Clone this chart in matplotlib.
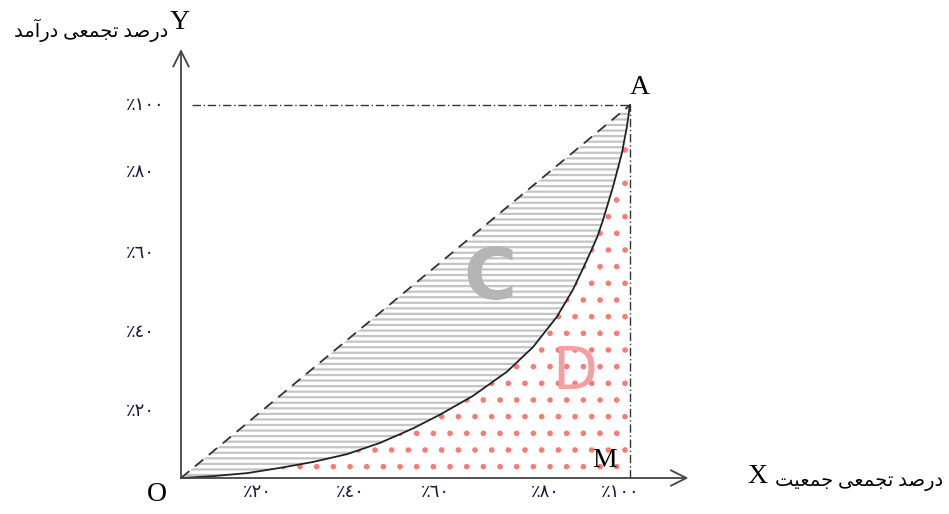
import matplotlib
matplotlib.use("Agg")
import matplotlib.pyplot as plt
import numpy as np

# lorenz curve (percent of population / percent of income)
lorenz_x = [0, 7.1, 14.7, 22.0, 29.4, 37.0, 44.3, 51.7, 57.7, 65.0, 72.6,
            78.4, 83.7, 87.3, 90.4, 92.7, 94.0, 96.2, 98.2, 99.3, 100]
lorenz_y = [0, 0.5, 1.3, 2.7, 4.3, 6.4, 9.4, 13.3, 17.0, 22.0, 28.5,
            35.1, 43.2, 50.5, 58.4, 64.6, 69.2, 78.0, 87.1, 94.1, 100]

# tick labels (arabic-indic digits, written in visual order)
x_tick_pos = [17.1, 37.6, 56.6, 81.1, 97.8]
y_tick_pos = [17.7, 38.9, 60.1, 82.0, 100]
tick_labels = ["\u066A\u0662\u0660", "\u066A\u0664\u0660", "\u066A\u0666\u0660",
               "\u066A\u0668\u0660", "\u066A\u0661\u0660\u0660"]

# persian words as presentation forms, visual (left to right) order
w_darsad = "\uFEAA\uFEBB\uFEAD\uFEA9"
w_tajmii = "\uFEF0\uFECC\uFEE4\uFEA0\uFE97"
w_daramad = "\uFEAA\uFEE3\uFE81\uFEAD\uFEA9"
w_jamiat = "\uFE96\uFEF4\uFECC\uFEE4\uFE9F"
y_title = w_daramad + " " + w_tajmii + " " + w_darsad
x_title = w_jamiat + " " + w_tajmii + " " + w_darsad

fonts = ["Liberation Serif", "DejaVu Sans"]
plt.rcParams["hatch.linewidth"] = 1.6

fig = plt.figure(figsize=(9.49, 5.14), dpi=100)
ax = fig.add_axes([181 / 949, 36 / 514, 449 / 949, 373 / 514])
ax.set_xlim(0, 100)
ax.set_ylim(0, 100)
ax.axis("off")

lx = np.array(lorenz_x)
ly = np.array(lorenz_y)

# area C : between equality line and lorenz curve
ax.fill_between(lx, lx, ly, facecolor="none", edgecolor="#c4c4c4",
                hatch="---", linewidth=0)
# area D : under the lorenz curve
ax.fill_between(lx, ly, 0, facecolor="none", edgecolor="#f87a7a",
                hatch=".", linewidth=0)

# equality line, lorenz curve, guide lines
ax.plot([0, 100], [0, 100], color="#333333", lw=1.3, ls=(0, (6, 4)), clip_on=False)
ax.plot(lx, ly, color="#222222", lw=1.3, clip_on=False)
ax.plot([2.5, 100], [100, 100], color="#333333", lw=1.0, ls=(0, (6, 2, 1, 2)), clip_on=False)
ax.plot([100, 100], [0, 100], color="#333333", lw=1.0, ls=(0, (6, 2, 1, 2)), clip_on=False)

# axes with open arrow heads
ax.annotate("", xy=(113, 0), xytext=(0, 0),
            arrowprops=dict(arrowstyle="->", color="#444444", lw=1.3,
                            mutation_scale=28, shrinkA=0, shrinkB=0),
            annotation_clip=False)
ax.annotate("", xy=(0, 115), xytext=(0, 0),
            arrowprops=dict(arrowstyle="->", color="#444444", lw=1.3,
                            mutation_scale=28, shrinkA=0, shrinkB=0),
            annotation_clip=False)

# tick labels
for p, t in zip(x_tick_pos, tick_labels):
    ax.text(p, -4.0, t, ha="center", va="center", fontsize=13,
            family=fonts, color="#1a1a40", clip_on=False)
for p, t in zip(y_tick_pos, tick_labels):
    ax.text(-12.2, p, t, ha="left", va="center", fontsize=13,
            family=fonts, color="#1a1a40", clip_on=False)

# point letters
ax.text(-5.3, -4.3, "O", ha="center", va="center", fontsize=20, family=fonts)
ax.text(102.2, 104.6, "A", ha="center", va="center", fontsize=20, family=fonts)
ax.text(94.4, 4.8, "M", ha="center", va="center", fontsize=20, family=fonts)
ax.text(128.3, 0.3, "X", ha="center", va="center", fontsize=20, family=fonts)
ax.text(-0.2, 122, "Y", ha="center", va="center", fontsize=20, family=fonts)

# axis titles
ax.text(-2.9, 120, y_title, ha="right", va="center", fontsize=14,
        family=fonts, clip_on=False)
ax.text(132.3, -1.3, x_title, ha="left", va="center", fontsize=14,
        family=fonts, clip_on=False)

# area letters
ax.text(68.8, 53.1, "C", ha="center", va="center", fontsize=52,
        fontweight="bold", color="#b5b5b5", family="DejaVu Sans")
ax.text(87.8, 28.4, "D", ha="center", va="center", fontsize=42,
        color="#f4a0a0", family="DejaVu Sans")

fig.savefig("out.png", dpi=100)
